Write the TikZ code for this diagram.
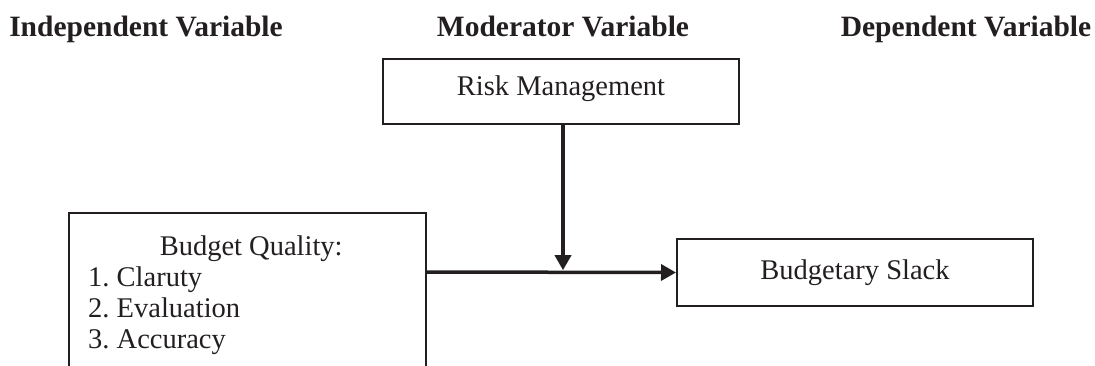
\documentclass[tikz,border=0pt]{standalone}
\usepackage{fontspec}
\setmainfont{Liberation Serif}
\usetikzlibrary{arrows.meta}
\definecolor{ink}{RGB}{35,31,32}
\frenchspacing
\begin{document}
\begin{tikzpicture}[x=1pt,y=-1pt,
  box/.style={draw=ink, line width=2pt, inner sep=0pt, text=ink,
    font=\fontsize{28.5}{31}\selectfont},
  head/.style={anchor=base, text=ink, inner sep=0pt,
    font=\fontsize{29.5}{32}\selectfont\bfseries},
  arr/.style={draw=ink, line width=3.5pt,
    -{Triangle[length=15pt,width=16pt]}}]
\useasboundingbox (0,0) rectangle (1095,365);
\clip (0,0) rectangle (1095,365);
% headers
\node[head] (hiv) at (146,36) {Independent Variable};
\node[head] (hmv) at (563,36) {Moderator Variable};
\node[head] (hdv) at (966,36) {Dependent Variable};
% boxes
\node[box, minimum width=356pt, minimum height=65pt, text height=19.5pt, text depth=12pt] (rm) at (561,91.5) {Risk Management};
\node[box, minimum width=356pt, minimum height=67pt] (bs) at (855,272.5) {Budgetary Slack};
\node[box, anchor=north west, minimum width=357pt, minimum height=190pt] (iv) at (68,212) {};
\node[anchor=base west, inner sep=0pt, align=left, text=ink,
  font=\fontsize{28.5}{31}\selectfont\frenchspacing] (ivtext) at (88,348)
  {\makebox[326pt][c]{Budget Quality:}\\1. Claruty\\2. Evaluation\\3. Accuracy};
% connectors
\coordinate (mid) at (563,272);
\draw[arr] (iv.east |- mid) -- (bs.west);
\draw[arr] (rm.south -| mid) -- ([yshift=1.8pt]mid);
\end{tikzpicture}
\end{document}
